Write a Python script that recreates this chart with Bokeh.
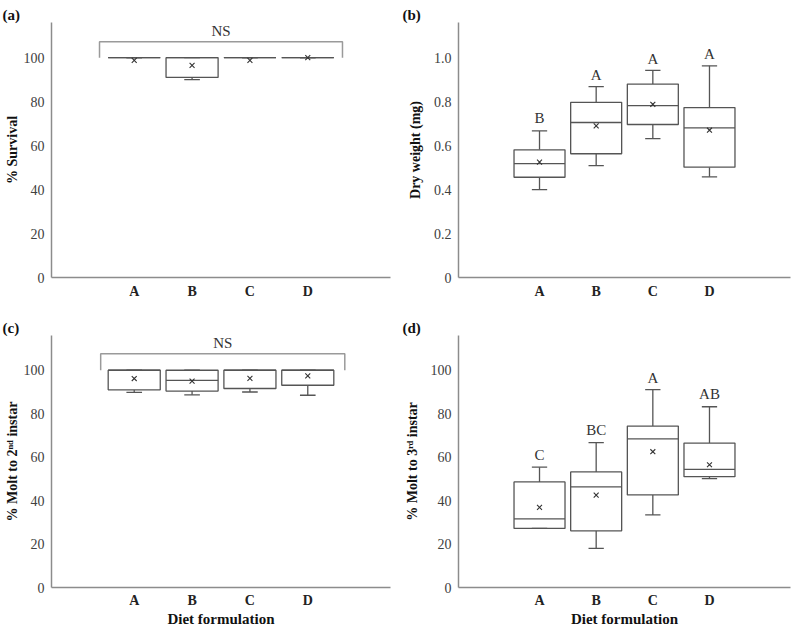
from bokeh.plotting import figure
from bokeh.layouts import gridplot
from bokeh.models import FixedTicker
from bokeh.embed import file_html
from bokeh.resources import INLINE
from bokeh.core.properties import value

# ---------------- data ----------------
categories = ["A", "B", "C", "D"]
cat_x = [1, 2, 3, 4]

# (a) % Survival
surv_min = [100, 90.0, 100, 100]
surv_q1 = [100, 91.0, 100, 100]
surv_med = [100, 100, 100, 100]
surv_q3 = [100, 100, 100, 100]
surv_max = [100, 100, 100, 100]
surv_mean = [98.8, 96.5, 98.8, 100]

# (b) Dry weight (mg)
dw_min = [0.400, 0.509, 0.632, 0.458]
dw_q1 = [0.456, 0.563, 0.696, 0.502]
dw_med = [0.518, 0.705, 0.782, 0.681]
dw_q3 = [0.581, 0.797, 0.880, 0.773]
dw_max = [0.667, 0.868, 0.942, 0.963]
dw_mean = [0.525, 0.690, 0.788, 0.670]
dw_letters = ["B", "A", "A", "A"]
dw_letter_y = [0.724, 0.920, 0.995, 1.018]

# (c) % Molt to 2nd instar
m2_min = [89.8, 88.7, 90.0, 88.5]
m2_q1 = [91.0, 90.4, 91.6, 93.1]
m2_med = [100, 95.3, 100, 100]
m2_q3 = [100, 100, 100, 100]
m2_max = [100, 100, 100, 100]
m2_mean = [96.2, 95.0, 96.3, 97.4]

# (d) % Molt to 3rd instar
m3_min = [27.2, 18.0, 33.4, 50.1]
m3_q1 = [27.2, 26.1, 42.6, 51.0]
m3_med = [31.6, 46.3, 68.4, 54.4]
m3_q3 = [48.6, 53.2, 74.3, 66.5]
m3_max = [55.4, 66.7, 91.1, 83.2]
m3_mean = [36.9, 42.5, 62.5, 56.5]
m3_letters = ["C", "BC", "A", "AB"]
m3_letter_y = [61.0, 72.3, 96.5, 89.2]

pct_ticks = [0, 20, 40, 60, 80, 100]
pct_tick_labels = ["0", "20", "40", "60", "80", "100"]
dw_ticks = [0, 0.2, 0.4, 0.6, 0.8, 1.0]
dw_tick_labels = ["0", "0.2", "0.4", "0.6", "0.8", "1.0"]

# NS brackets (a) and (c)
ns_a_x = [0.4, 0.4, 4.6, 4.6]
ns_a_y = [100, 107.2, 107.2, 100]
ns_a_text_y = [112.2]
ns_c_x = [0.42, 0.42, 4.64, 4.64]
ns_c_y = [100, 107.6, 107.6, 100]
ns_c_text_y = [112.4]

# ---------------- style ----------------
FONT = "Liberation Serif"
BOX = "#555555"
AXIS = "#8c8c8c"
BOX_W = 0.9
CAP_W = 0.27
X_RANGE = (-0.43, 5.43)


def make_panel(width, height, bl, br, bt, bb, y_end, ticks, tick_labels,
               ylabel, xlabel, mn, q1, med, q3, mx, mean, tag, tag_offset,
               tag_lift, ylabel_standoff):
    p = figure(width=width, height=height, x_range=X_RANGE, y_range=(0, y_end),
               output_backend="svg", toolbar_location=None,
               min_border_left=bl, min_border_right=br,
               min_border_top=bt, min_border_bottom=bb)
    p.outline_line_color = None
    p.xgrid.visible = False
    p.ygrid.visible = False
    p.background_fill_color = "white"
    p.border_fill_color = "white"

    # panel tag as title
    p.title.text = tag
    p.title.align = "left"
    p.title.offset = tag_offset
    p.title.standoff = 0
    p.title.padding = (0, 0, tag_lift, 0)
    p.title.text_font = FONT
    p.title.text_font_style = "bold"
    p.title.text_font_size = "15px"
    p.title.text_color = "#111111"

    # axes
    p.xaxis.ticker = FixedTicker(ticks=cat_x)
    p.xaxis.major_label_overrides = {x: c for x, c in zip(cat_x, categories)}
    p.yaxis.ticker = FixedTicker(ticks=ticks)
    p.yaxis.major_label_overrides = {t: l for t, l in zip(ticks, tick_labels)}
    for ax in (p.xaxis[0], p.yaxis[0]):
        ax.axis_line_color = AXIS
        ax.axis_line_width = 1.5
        ax.major_tick_line_color = None
        ax.minor_tick_line_color = None
        ax.major_tick_out = 0
        ax.major_tick_in = 0
        ax.minor_tick_out = 0
        ax.minor_tick_in = 0
    p.xaxis.major_label_text_font = FONT
    p.xaxis.major_label_text_font_style = "bold"
    p.xaxis.major_label_text_font_size = "14px"
    p.xaxis.major_label_text_color = "#222222"
    p.xaxis.major_label_standoff = 5 if xlabel else 6
    p.yaxis.major_label_text_font = FONT
    p.yaxis.major_label_text_font_size = "14px"
    p.yaxis.major_label_text_color = "#404040"
    p.yaxis.major_label_standoff = 7
    p.yaxis.axis_label = ylabel
    p.yaxis.axis_label_text_font = FONT
    p.yaxis.axis_label_text_font_style = "bold"
    p.yaxis.axis_label_text_font_size = "14px"
    p.yaxis.axis_label_text_color = "#111111"
    p.yaxis.axis_label_standoff = ylabel_standoff
    if xlabel:
        p.xaxis.axis_label = xlabel
        p.xaxis.axis_label_text_font = FONT
        p.xaxis.axis_label_text_font_style = "bold"
        p.xaxis.axis_label_text_font_size = "15px"
        p.xaxis.axis_label_text_color = "#111111"
        p.xaxis.axis_label_standoff = 0

    # boxes
    p.segment(x0=cat_x, x1=cat_x, y0=q3, y1=mx, line_color=BOX, line_width=1.3)
    p.segment(x0=cat_x, x1=cat_x, y0=q1, y1=mn, line_color=BOX, line_width=1.3)
    left = [x - BOX_W / 2 for x in cat_x]
    right = [x + BOX_W / 2 for x in cat_x]
    p.quad(left=left, right=right, bottom=q1, top=q3, fill_color="white",
           line_color=BOX, line_width=1.3)
    p.segment(x0=left, x1=right, y0=med, y1=med, line_color=BOX, line_width=1.3)
    cl = [x - CAP_W / 2 for x in cat_x]
    cr = [x + CAP_W / 2 for x in cat_x]
    p.segment(x0=cl, x1=cr, y0=mx, y1=mx, line_color=BOX, line_width=1.3)
    p.segment(x0=cl, x1=cr, y0=mn, y1=mn, line_color=BOX, line_width=1.3)
    p.scatter(x=cat_x, y=mean, marker="x", size=7, line_color="#333333",
              line_width=1.1)
    return p


def add_letters(p, ys, texts):
    p.text(x=cat_x, y=ys, text=texts, text_font=value(FONT),
           text_font_size="15px", text_color="#333333",
           text_align="center", text_baseline="middle")


def add_ns(p, xs, ys, ty):
    p.line(x=xs, y=ys, line_color="#9a9a9a", line_width=1.5)
    p.text(x=[(xs[0] + xs[-1]) / 2], y=ty, text=["NS"], text_font=value(FONT),
           text_font_size="15px", text_color="#333333",
           text_align="center", text_baseline="middle")


pa = make_panel(400, 310, 51, 10, 22, 33, 116, pct_ticks, pct_tick_labels,
                "% Survival", None, surv_min, surv_q1, surv_med, surv_q3,
                surv_max, surv_mean, "(a)", -49, 3, 1)
add_ns(pa, ns_a_x, ns_a_y, ns_a_text_y)

pb = make_panel(400, 310, 58, 10, 22, 33, 1.16, dw_ticks, dw_tick_labels,
                "Dry weight (mg)", None, dw_min, dw_q1, dw_med, dw_q3,
                dw_max, dw_mean, "(b)", -56, 3, 8)
add_letters(pb, dw_letter_y, dw_letters)

pc = make_panel(400, 319, 51, 10, 25, 40, 116, pct_ticks, pct_tick_labels,
                "% Molt to 2ⁿᵈ instar", "Diet formulation", m2_min, m2_q1,
                m2_med, m2_q3, m2_max, m2_mean, "(c)", -49, 7, 1)
add_ns(pc, ns_c_x, ns_c_y, ns_c_text_y)

pd = make_panel(400, 319, 58, 10, 25, 40, 116, pct_ticks, pct_tick_labels,
                "% Molt to 3ʳᵈ instar", "Diet formulation", m3_min, m3_q1,
                m3_med, m3_q3, m3_max, m3_mean, "(d)", -56, 7, 8)
add_letters(pd, m3_letter_y, m3_letters)

layout = gridplot([[pa, pb], [pc, pd]], toolbar_location=None)

open("out.html", "w").write(file_html(layout, INLINE))
